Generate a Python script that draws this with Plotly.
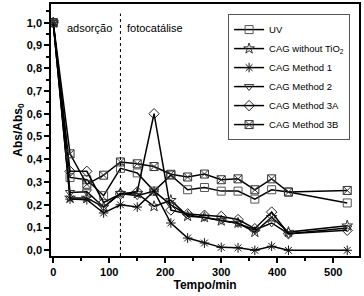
import plotly.graph_objects as go

time = [0, 30, 60, 90, 120, 150, 180, 210, 240, 270, 300, 330, 360, 390, 420, 525]
uv = [1.0, 0.32, 0.31, 0.24, 0.36, 0.34, 0.26, 0.33, 0.266, 0.276, 0.26, 0.26, 0.225, 0.266, 0.256, 0.208]
no_tio2 = [1.0, 0.23, 0.23, 0.19, 0.25, 0.25, 0.193, 0.22, 0.15, 0.145, 0.13, 0.12, 0.08, 0.145, 0.08, 0.108]
m1 = [1.0, 0.225, 0.222, 0.164, 0.2, 0.19, 0.26, 0.12, 0.054, 0.032, 0.013, 0.011, 0.0, 0.018, 0.0, 0.0]
m2 = [1.0, 0.254, 0.257, 0.19, 0.25, 0.24, 0.26, 0.2, 0.155, 0.145, 0.132, 0.118, 0.09, 0.12, 0.073, 0.098]
m3a = [1.0, 0.347, 0.347, 0.21, 0.247, 0.257, 0.6, 0.177, 0.16, 0.154, 0.149, 0.135, 0.095, 0.168, 0.073, 0.088]
m3b = [1.0, 0.424, 0.29, 0.33, 0.388, 0.38, 0.368, 0.334, 0.322, 0.335, 0.31, 0.314, 0.266, 0.314, 0.256, 0.263]

series = [
    ("UV", uv, "square-open", "#555555"),
    ("CAG without TiO<sub>2</sub>", no_tio2, "star-open", "#333333"),
    ("CAG Method 1", m1, "asterisk-open", "#111111"),
    ("CAG Method 2", m2, "triangle-down-open", "#333333"),
    ("CAG Method 3A", m3a, "diamond-open", "#222222"),
    ("CAG Method 3B", m3b, "square-x-open", "#333333"),
]

fig = go.Figure()
for name, vals, sym, mc in series:
    fig.add_trace(go.Scatter(
        x=time, y=vals, name=name, mode="lines+markers",
        line=dict(color="black", width=1.5),
        marker=dict(symbol=sym, size=8, color=mc, line=dict(width=1, color=mc)),
    ))

fig.add_shape(type="line", x0=120, x1=120, y0=-0.025, y1=1.04, xref="x", yref="y",
              line=dict(color="black", width=1, dash="3px,3px"))

fig.add_annotation(x=64, y=0.975, xref="x", yref="y", text="adsorção", showarrow=False,
                   font=dict(family="Liberation Sans", size=11, color="black"))
fig.add_annotation(x=181, y=0.975, xref="x", yref="y", text="fotocatálise", showarrow=False,
                   font=dict(family="Liberation Sans", size=11, color="black"))

axfont = dict(family="Liberation Sans", size=11, color="black", weight="bold")
fig.update_layout(
    width=364, height=296,
    margin=dict(l=51, r=5, t=4, b=40),
    paper_bgcolor="white", plot_bgcolor="white",
    separators=",.",
    showlegend=True,
    legend=dict(x=0.575, y=0.96, xanchor="left", yanchor="top",
                bgcolor="white", bordercolor="#555555", borderwidth=1,
                font=dict(family="Liberation Sans", size=9.5, color="black"),
                itemwidth=30, tracegroupgap=0),
    xaxis=dict(range=[-4, 546], tickmode="array", tickvals=[0, 100, 200, 300, 400, 500],
               ticks="outside", ticklen=5, tickwidth=1.5, tickcolor="black",
               minor=dict(dtick=50, ticks="outside", ticklen=3, tickcolor="black"),
               showline=True, linecolor="black", linewidth=1.5, mirror=True,
               showgrid=False, zeroline=False, tickfont=axfont, automargin=False,
               title=dict(text="Tempo/min", font=dict(family="Liberation Sans", size=12, color="black", weight="bold"), standoff=4)),
    yaxis=dict(range=[-0.025, 1.082], tickmode="linear", tick0=0, dtick=0.1, tickformat=".1f",
               ticks="outside", ticklen=5, tickwidth=1.5, tickcolor="black",
               minor=dict(dtick=0.05, ticks="outside", ticklen=3, tickcolor="black"),
               showline=True, linecolor="black", linewidth=1.5, mirror=True,
               showgrid=False, zeroline=False, tickfont=axfont, automargin=False,
               title=dict(text="Abs/Abs<sub>0</sub>", font=dict(family="Liberation Sans", size=12, color="black", weight="bold"), standoff=2)),
)

fig.write_html("out.html", config={"displayModeBar": False},
               post_script="document.body.style.margin='0';")
